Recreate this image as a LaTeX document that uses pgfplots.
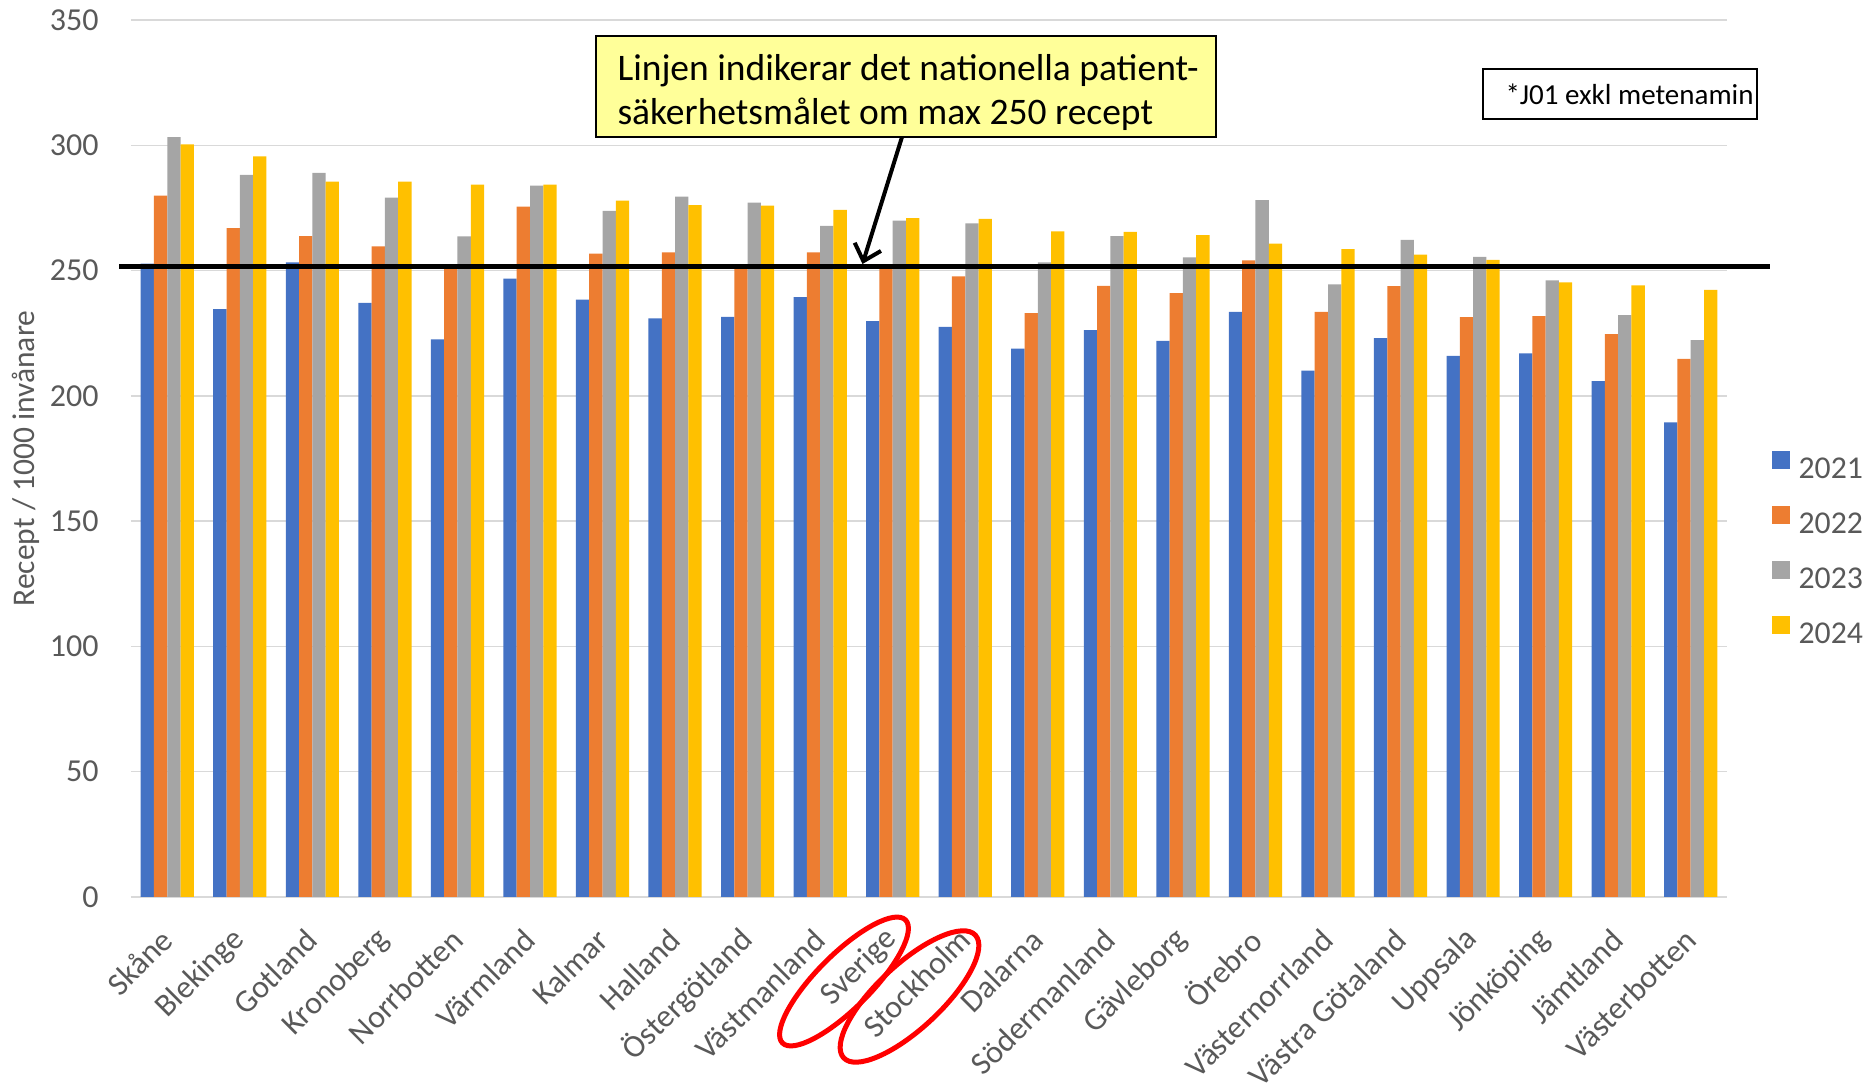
\documentclass[border=0pt]{standalone}
\usepackage{fontspec}
\setmainfont{Carlito}
\usepackage{pgfplots}
\usepackage{pgfplotstable}
\pgfplotsset{compat=1.18}
\usetikzlibrary{arrows.meta}
\definecolor{cA}{HTML}{4472C4}
\definecolor{cB}{HTML}{ED7D31}
\definecolor{cC}{HTML}{A5A5A5}
\definecolor{cD}{HTML}{FFC000}
\definecolor{labelgray}{HTML}{595959}
\definecolor{gridgray}{HTML}{D9D9D9}
\definecolor{boxyellow}{HTML}{FFFF99}

\pgfplotstableread{
idx a b c d
0 252.8 279.9 303.3 300.4
1 234.6 266.9 288.2 295.6
2 253.3 263.7 289.0 285.5
3 237.1 259.7 279.1 285.5
4 222.5 251.0 263.6 284.3
5 246.8 275.5 283.9 284.3
6 238.4 256.8 273.8 277.9
7 230.9 257.3 279.5 276.1
8 231.5 251.2 277.1 275.9
9 239.4 257.3 267.8 274.2
10 229.8 251.2 269.9 270.9
11 227.5 247.7 268.8 270.6
12 218.8 233.0 253.3 265.6
13 226.2 243.9 263.7 265.4
14 221.9 241.0 255.3 264.1
15 233.5 254.1 278.1 260.8
16 210.1 233.5 244.5 258.6
17 223.0 243.8 262.2 256.4
18 216.0 231.4 255.5 254.3
19 217.0 231.8 246.1 245.3
20 205.9 224.6 232.2 244.1
21 189.4 214.8 222.2 242.3
}\data

\pgfplotsset{
  mybar/.style={ybar, bar width=0.1833, draw=none, fill=#1,
    legend image code/.code={\fill[#1] (0pt,0.4pt) rectangle (7.2pt,7.6pt);}},
}

\begin{document}
\begin{tikzpicture}
\useasboundingbox (0,0) rectangle (747.2pt,433.2pt);
\begin{axis}[
  at={(52.4pt,74.4pt)}, anchor=south west,
  scale only axis, width=638.4pt, height=350.8pt,
  xmin=-0.5, xmax=21.5, ymin=0, ymax=350,
  ytick={0,50,...,350},
  xtick={0,...,21},
  xticklabels={Skåne,Blekinge,Gotland,Kronoberg,Norrbotten,Värmland,Kalmar,Halland,Östergötland,Västmanland,Sverige,Stockholm,Dalarna,Södermanland,Gävleborg,Örebro,Västernorrland,Västra Götaland,Uppsala,Jönköping,Jämtland,Västerbotten},
  major tick length=0pt,
  axis line style={draw=none},
  ymajorgrids, grid style={color=gridgray, line width=0.6pt},
  tick label style={font=\fontsize{12.8}{15}\selectfont, text=labelgray, inner sep=0pt},
  yticklabel style={anchor=east},
  yticklabel shift=12.8pt,
  xticklabel style={rotate=45, anchor=east},
  xticklabel shift=15pt,
  /pgf/number format/assume math mode=true,
  ylabel={Recept / 1000 invånare},
  ylabel style={at={(axis description cs:-0.0658,0.5)}, anchor=center, font=\fontsize{12.6}{15}\selectfont, text=labelgray},
  clip=false,
  legend style={at={(axis description cs:1.0276,0.3968)}, anchor=west, draw=none, fill=none, inner sep=0pt,
    font=\fontsize{12.7}{15}\selectfont, text=labelgray, row sep=9.5pt, column sep=3.6pt, nodes={inner sep=0pt}},
  legend cell align=left,
]
\addplot[mybar=cA, bar shift=-0.275] table[x=idx,y=a]{\data};
\addplot[mybar=cB, bar shift=-0.0917] table[x=idx,y=b]{\data};
\addplot[mybar=cC, bar shift=0.0917] table[x=idx,y=c]{\data};
\addplot[mybar=cD, bar shift=0.275] table[x=idx,y=d]{\data};
\legend{2021,2022,2023,2024}
\addplot[black, line width=1.8pt, forget plot, mark=none] coordinates {(-0.665,251.7) (22.09,251.7)};
\end{axis}
% annotation box
\draw[line width=1pt, fill=boxyellow] (238.4pt,378.4pt) rectangle (486.4pt,418.8pt);
\node[anchor=base west, inner sep=0pt, font=\fontsize{15}{17.6}\selectfont] at (246.8pt,400.8pt) {Linjen indikerar det nationella patient-};
\node[anchor=base west, inner sep=0pt, font=\fontsize{15}{17.6}\selectfont] at (246.8pt,383.2pt) {säkerhetsmålet om max 250 recept};
\draw[line width=1.6pt, -{Straight Barb[length=6pt,width=11pt]}] (360.8pt,378.4pt) -- (345pt,327.6pt);
% note box
\draw[line width=0.8pt, fill=white] (593.2pt,385.6pt) rectangle (702.8pt,405.6pt);
\node[anchor=west, inner sep=0pt, font=\fontsize{11.6}{14}\selectfont] at (602pt,395.6pt) {*J01 exkl metenamin};
% red ellipses
\draw[red, line width=2pt, rotate around={45:(337.6pt,40.6pt)}] (337.6pt,40.6pt) ellipse [x radius=34.8pt, y radius=10.8pt];
\draw[red, line width=2pt, rotate around={43:(363.8pt,34.6pt)}] (363.8pt,34.6pt) ellipse [x radius=36pt, y radius=12.8pt];
\end{tikzpicture}
\end{document}
